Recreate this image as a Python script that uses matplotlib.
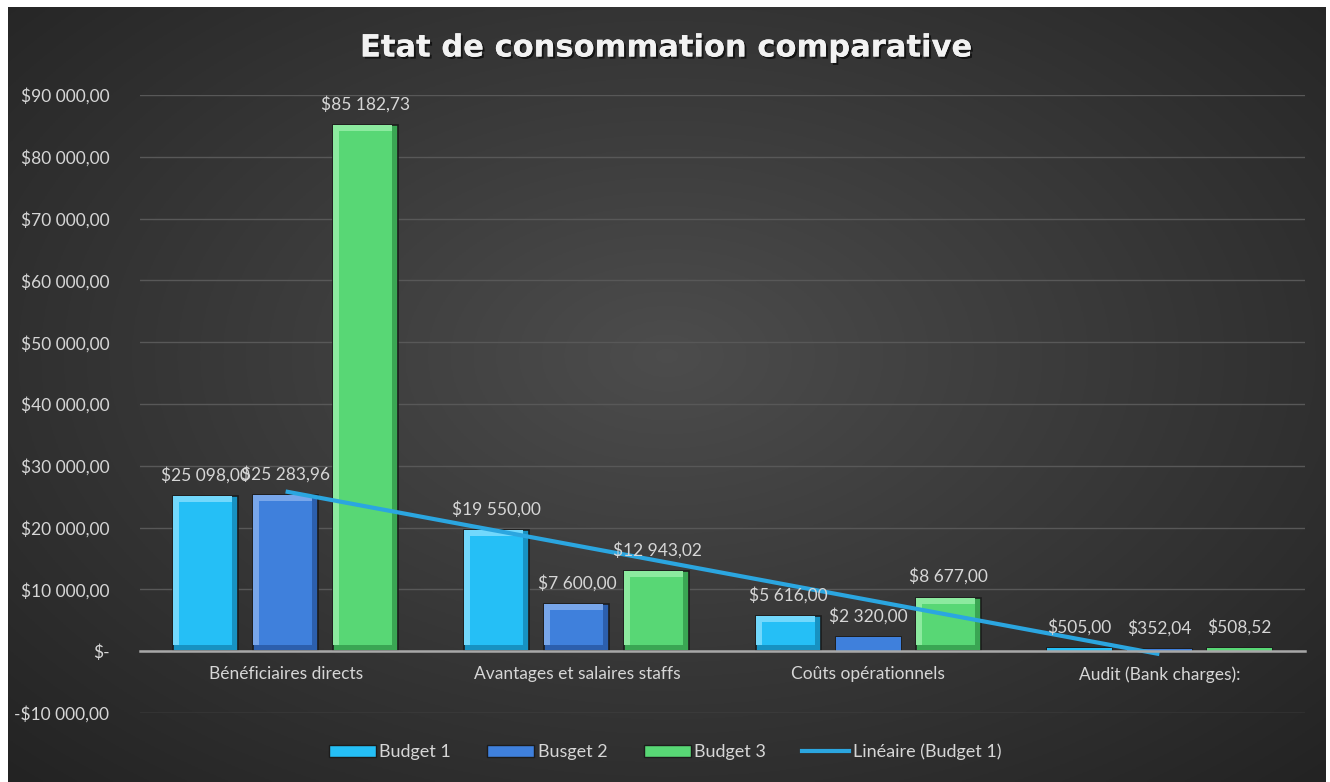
import numpy as np
import matplotlib
matplotlib.use('Agg')
from matplotlib import pyplot as plt
from matplotlib import patheffects as pe
from matplotlib.patches import Patch
from matplotlib.lines import Line2D

categories = ['Bénéficiaires directs', 'Avantages et salaires staffs',
              'Coûts opérationnels', 'Audit (Bank charges):']
budget1 = [25098.00, 19550.00, 5616.00, 505.00]
budget2 = [25283.96, 7600.00, 2320.00, 352.04]
budget3 = [85182.73, 12943.02, 8677.00, 508.52]
series_names = ['Budget 1', 'Busget 2', 'Budget 3']
ytick_vals = [-10000, 0, 10000, 20000, 30000, 40000, 50000, 60000, 70000, 80000, 90000]


def money(v):
    if v == 0:
        return '$-'
    s = '{:,.2f}'.format(abs(v)).replace(',', ' ').replace('.', ',')
    return ('-$' if v < 0 else '$') + s


plt.rcParams['font.family'] = ['Lato', 'DejaVu Sans']
txt_col = '#d6d6d6'

fig = plt.figure(figsize=(13.3, 7.82), dpi=100)
fig.patch.set_facecolor('white')

# background with radial gradient
bg = fig.add_axes([8 / 1330, 0, 1318 / 1330, 775 / 782])
bg.set_axis_off()
yy, xx = np.mgrid[0:1:300j, 0:1:500j]
r = np.sqrt(((xx - 0.5) / 0.75) ** 2 + ((yy - 0.45) / 0.8) ** 2)
shade = np.clip(0.30 - 0.17 * r, 0.14, 0.30)
bg.imshow(np.dstack([shade, shade, shade]), aspect='auto', extent=[0, 1, 0, 1], origin='upper')
bg.set_xlim(0, 1)
bg.set_ylim(0, 1)

ax = fig.add_axes([140 / 1330, (782 - 713) / 782, 1165 / 1330, 618 / 782])
ax.set_facecolor('none')
ax.set_ylim(-10000, 90000)
ax.set_xlim(-0.5, 3.5)

x = np.arange(len(categories))
w = 0.223
step = 0.275
faces = ['#25bff6', '#3f80dc', '#58d775']
lights = ['#72d8fc', '#78a6ea', '#8cea9f']
darks = ['#1792c2', '#2c5fad', '#3aa653']

inset_x = 6 * 4.0 / 1165
inset_y = 6 * 100000 / 618

for i, vals in enumerate([budget1, budget2, budget3]):
    pos = x + (i - 1) * step
    ax.bar(pos, vals, w, color=darks[i], edgecolor='#1c1c1c', linewidth=1.2, zorder=3)
    for p, v in zip(pos, vals):
        if v > 2.5 * inset_y:
            left = p - w / 2
            ax.bar(left, v - inset_y, w - inset_x, bottom=inset_y, align='edge',
                   color=lights[i], linewidth=0, zorder=3.5)
            ax.bar(left + inset_x, v - 2 * inset_y, w - 2 * inset_x, bottom=inset_y,
                   align='edge', color=faces[i], linewidth=0, zorder=4)
        else:
            ax.bar(p, v, w, color=faces[i], linewidth=0, zorder=4)
        ax.annotate(money(v), (p, v), xytext=(0, 9), textcoords='offset points',
                    ha='center', va='bottom', color=txt_col, fontsize=12.5, zorder=6)

# linear trend of Budget 1
k, b = np.polyfit(x, budget1, 1)
ax.plot([x[0], x[-1]], [k * x[0] + b, k * x[-1] + b], color='#2ba6e0', lw=3, zorder=5,
        solid_capstyle='butt')

ax.set_yticks(ytick_vals)
ax.set_yticklabels([money(v) for v in ytick_vals])
ax.grid(axis='y', color='#585858', lw=1, zorder=0)
ax.set_axisbelow(True)
for s in ['top', 'right', 'left']:
    ax.spines[s].set_visible(False)
ax.spines['bottom'].set_position(('data', 0))
ax.spines['bottom'].set_color('#a8a8a8')
ax.spines['bottom'].set_linewidth(1.8)
ax.spines['bottom'].set_zorder(5)
ax.set_xticks(x)
ax.set_xticklabels(categories)
ax.tick_params(axis='x', length=0, pad=11, labelsize=12.5, labelcolor=txt_col)
ax.tick_params(axis='y', length=0, pad=22, labelsize=12.5, labelcolor=txt_col)

fig.text(0.5, 1 - 48 / 782, 'Etat de consommation comparative', ha='center', va='center',
         fontsize=22, fontweight='bold', color='#f2f2f2', family='DejaVu Sans',
         path_effects=[pe.withSimplePatchShadow(offset=(1.5, -1.5), shadow_rgbFace='black', alpha=0.6),
                       pe.Normal()])

handles = [Patch(facecolor=faces[i], edgecolor='#1c1c1c', label=series_names[i]) for i in range(3)]
handles.append(Line2D([0], [0], color='#2ba6e0', lw=3, label='Linéaire (Budget 1)'))
leg = fig.legend(handles=handles, loc='center', bbox_to_anchor=(0.5, 1 - 752 / 782), ncol=4,
                 frameon=False, fontsize=13, handlelength=2.6, handleheight=0.6,
                 handletextpad=0.2, columnspacing=2.0, labelcolor=txt_col)

fig.savefig('out.png', dpi=100, facecolor=fig.get_facecolor())
